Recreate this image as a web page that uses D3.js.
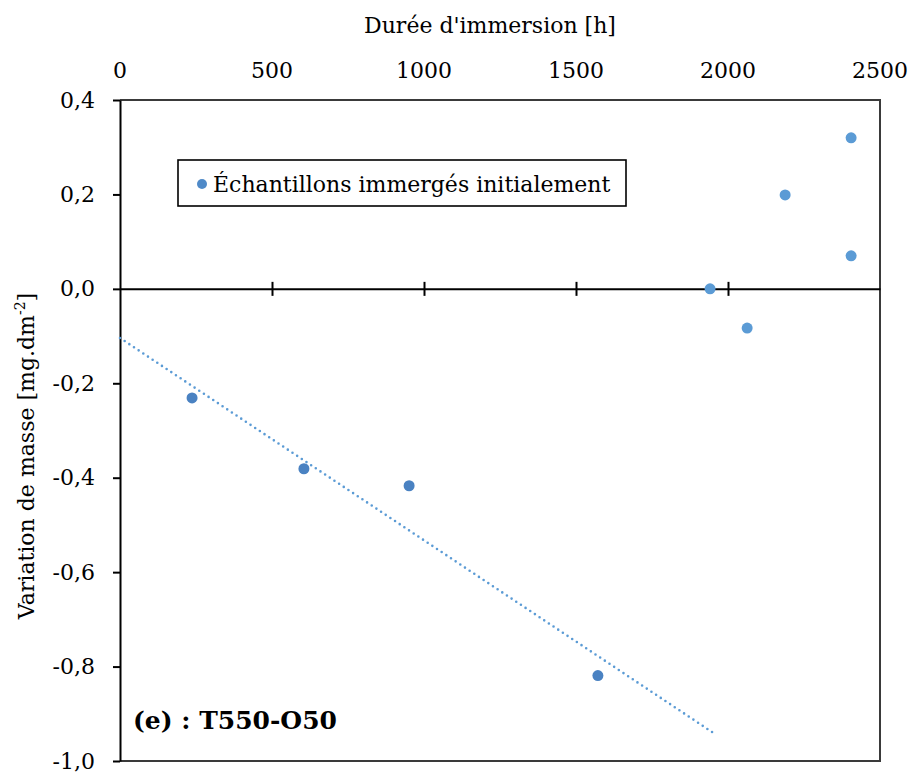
<!DOCTYPE html>
<html>
<head>
<meta charset="utf-8">
<script src="https://cdn.jsdelivr.net/npm/d3@7"></script>
<style>
  body { margin: 0; background: #fff; }
</style>
</head>
<body>
<svg id="chart" width="910" height="776"></svg>
<script>
// ---- data ----
const xTicks = [0, 500, 1000, 1500, 2000, 2500];
const yTicks = [0.4, 0.2, 0.0, -0.2, -0.4, -0.6, -0.8, -1.0];
// points used for the trend line
const fitHours = [237, 605, 951, 1572];
const fitMass  = [-0.231, -0.381, -0.417, -0.819];
// remaining points
const lateHours = [1941, 2063, 2188, 2405, 2405];
const lateMass  = [0.0, -0.083, 0.199, 0.320, 0.070];
// dotted trend line end points
const trendHours = [0, 1960];
const trendMass  = [-0.104, -0.944];
const legendLabel = "Échantillons immergés initialement";
const xTitle = "Durée d'immersion [h]";
const yTitle = "Variation de masse [mg.dm";
const panelLabel = "(e) : T550-O50";

// ---- layout ----
const FONT = "DejaVu Serif";
const pL = 120, pR = 880, pT = 100, pB = 761;
const svg = d3.select("#chart").style("font-family", FONT);
const x = d3.scaleLinear().domain([0, 2500]).range([pL, pR]);
const y = d3.scaleLinear().domain([-1.0, 0.4]).range([pB, pT]);
const fmt = v => d3.format(".1f")(v).replace(".", ",").replace("−", "-");

// plot border (top, right, bottom)
svg.append("path")
  .attr("d", `M${pL},${pT}H${pR}V${pB}H${pL}`)
  .attr("fill", "none").attr("stroke", "#3a3a3a").attr("stroke-width", 2);

// y axis
const yAxis = d3.axisLeft(y).tickValues(yTicks).tickSize(7).tickSizeOuter(0).tickFormat(fmt);
const gy = svg.append("g").attr("transform", `translate(${pL},0)`).call(yAxis)
  .attr("font-family", FONT).attr("font-size", 22);
gy.select(".domain").attr("stroke", "#000").attr("stroke-width", 2);
gy.selectAll(".tick line").attr("stroke", "#000").attr("stroke-width", 2);
gy.selectAll(".tick text").attr("x", -25).attr("fill", "#000");

// x axis at y = 0 with crossing ticks
const xAxis = d3.axisBottom(x).tickValues(xTicks).tickSize(0).tickFormat("");
const gx = svg.append("g").attr("transform", `translate(0,${y(0)})`).call(xAxis);
gx.select(".domain").attr("stroke", "#000").attr("stroke-width", 2);
gx.selectAll(".tick").filter(d => d > 0 && d < 2500).append("line")
  .attr("y1", -7).attr("y2", 7).attr("stroke", "#000").attr("stroke-width", 2);

// x tick labels on top
svg.append("g").selectAll("text").data(xTicks).join("text")
  .attr("x", d => x(d)).attr("y", 78).attr("text-anchor", "middle")
  .attr("font-size", 22).text(d => d);

// titles
svg.append("text").attr("x", 490).attr("y", 33).attr("text-anchor", "middle")
  .attr("font-size", 22).text(xTitle);
const yt = svg.append("text").attr("transform", "translate(34,456) rotate(-90)")
  .attr("text-anchor", "middle").attr("font-size", 22);
yt.append("tspan").text(yTitle);
yt.append("tspan").attr("font-size", 14).attr("dy", -9).text("-2");
yt.append("tspan").attr("dy", 9).text("]");

// trend line (dotted)
const line = d3.line().x(d => x(d[0])).y(d => y(d[1]));
svg.append("path").datum(d3.zip(trendHours, trendMass)).attr("d", line)
  .attr("fill", "none").attr("stroke", "#5b9bd5").attr("stroke-width", 2.6)
  .attr("stroke-linecap", "round").attr("stroke-dasharray", "0,5.6");

// points
svg.append("g").selectAll("circle").data(d3.zip(fitHours, fitMass)).join("circle")
  .attr("cx", d => x(d[0])).attr("cy", d => y(d[1])).attr("r", 5.5).attr("fill", "#4a82c2");
svg.append("g").selectAll("circle").data(d3.zip(lateHours, lateMass)).join("circle")
  .attr("cx", d => x(d[0])).attr("cy", d => y(d[1])).attr("r", 5.5).attr("fill", "#5b9bd5");

// legend
svg.append("rect").attr("x", 178).attr("y", 160).attr("width", 448).attr("height", 46)
  .attr("fill", "#fff").attr("stroke", "#000").attr("stroke-width", 1.6);
svg.append("circle").attr("cx", 202).attr("cy", 184).attr("r", 5).attr("fill", "#4f8ac8");
svg.append("text").attr("x", 213).attr("y", 192).attr("font-size", 22).text(legendLabel);

// panel label
svg.append("text").attr("x", 133).attr("y", 729).attr("font-size", 25)
  .attr("font-weight", "bold").text(panelLabel);
</script>
</body>
</html>
